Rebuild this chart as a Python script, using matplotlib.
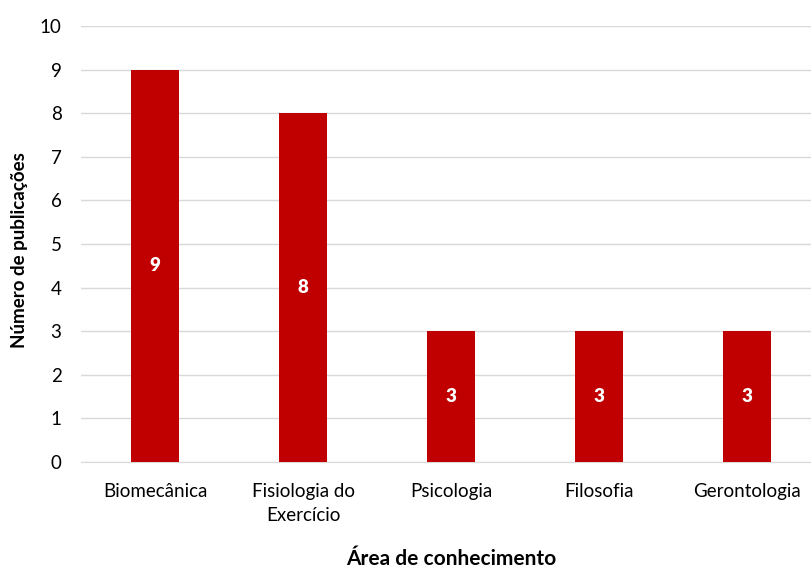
import matplotlib.pyplot as plt
import numpy as np

plt.rcParams['font.family'] = ['Lato', 'DejaVu Sans']

areas = ["Biomecânica", "Fisiologia do\nExercício", "Psicologia", "Filosofia", "Gerontologia"]
publicacoes = [9, 8, 3, 3, 3]

fig = plt.figure(figsize=(8.11, 5.69), dpi=100)
ax = fig.add_axes([81 / 811, 1 - 462 / 569, 740 / 811, 436 / 569])

x = np.arange(len(areas))
bars = ax.bar(x, publicacoes, width=0.32, color="#C00000", zorder=3)

for b, v in zip(bars, publicacoes):
    ax.text(b.get_x() + b.get_width() / 2, v / 2, str(v), ha="center", va="center",
            color="white", fontsize=13.5, fontweight="heavy", zorder=4)

ax.set_xlim(-0.5, 4.5)
ax.set_ylim(0, 10)
ax.set_yticks(range(0, 11))
ax.set_xticks(x)
ax.set_xticklabels(areas, fontsize=13.5, linespacing=1.5, va="top")
ax.tick_params(axis="y", labelsize=13.5, length=0, pad=14)
ax.tick_params(axis="x", length=0, pad=15)
ax.grid(axis="y", color="#D9D9D9", linewidth=1, zorder=0)
for s in ["top", "right", "left"]:
    ax.spines[s].set_visible(False)
ax.spines["bottom"].set_color("#D9D9D9")

ax.set_xlabel("Área de conhecimento", fontsize=15, fontweight="bold", va="center")
ax.xaxis.set_label_coords(0.5, -(559 - 462) / 436)
ax.set_ylabel("Número de publicações", fontsize=13.5, fontweight="bold", va="center")
ax.yaxis.set_label_coords(-(81 - 20) / 740, (462 - 250) / 436)

fig.savefig("out.png", dpi=100)
